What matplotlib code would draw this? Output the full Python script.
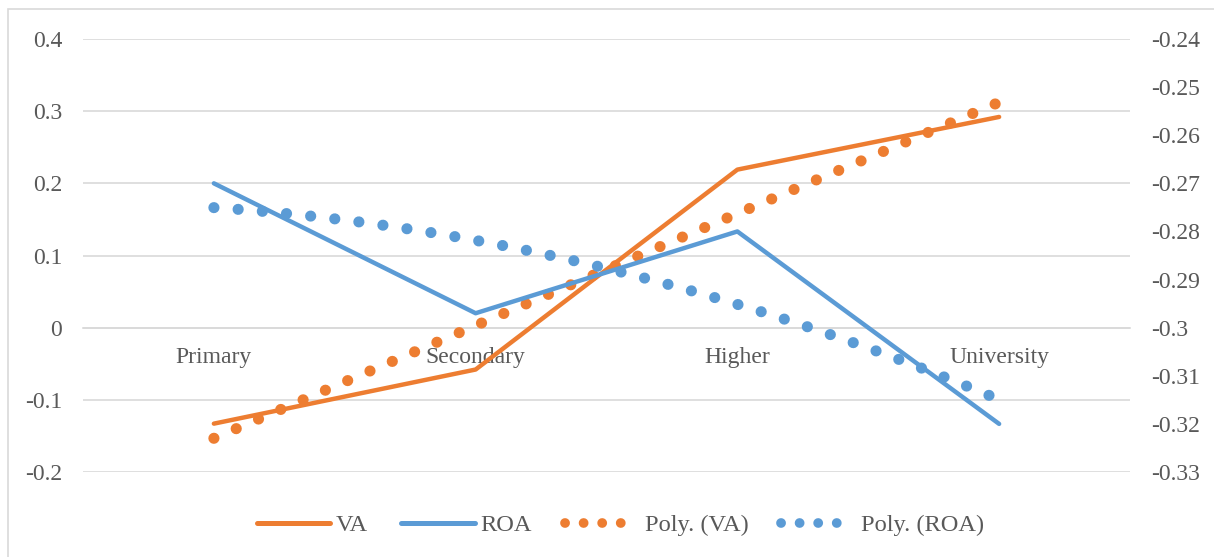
import numpy as np
import matplotlib.pyplot as plt
from matplotlib.patches import Rectangle
from matplotlib.lines import Line2D

# data
categories = ['Primary', 'Secondary', 'Higher', 'University']
va = [-0.133, -0.058, 0.219, 0.292]
roa = [-0.270, -0.297, -0.280, -0.320]
left_ticks = [-0.2, -0.1, 0, 0.1, 0.2, 0.3, 0.4]
right_ticks = [-0.33, -0.32, -0.31, -0.3, -0.29, -0.28, -0.27, -0.26, -0.25, -0.24]

orange = '#ED7D31'
blue = '#5B9BD5'
grid = '#D9D9D9'
txt = '#595959'

plt.rcParams['font.family'] = ['Liberation Serif', 'DejaVu Serif']
plt.rcParams['axes.unicode_minus'] = False

fig = plt.figure(figsize=(12.14, 5.57), dpi=100)
ax = fig.add_axes([83/1214, 1-472/557, (1130-83)/1214, (472-39)/557])
ax2 = ax.twinx()

x = np.arange(len(categories))
xs = np.linspace(0, len(categories)-1, 200)
# excel "Poly." trendlines, order 2, fitted on the category index
va_fit = np.polyval(np.polyfit(x+1, va, 2), xs+1)
roa_fit = np.polyval(np.polyfit(x+1, roa, 2), xs+1)

dot = dict(lw=8, linestyle=(0, (0.01, 2.175)), dash_capstyle='round')
ax.plot(x, va, color=orange, lw=3.2, solid_capstyle='round', zorder=4)
ax.plot(xs, va_fit, color=orange, zorder=5, **dot)
ax2.plot(x, roa, color=blue, lw=3.2, solid_capstyle='round', zorder=3)
ax2.plot(xs, roa_fit, color=blue, zorder=4, **dot)

ax.set_xlim(-0.5, len(categories)-0.5)
ax.set_ylim(-0.2, 0.4)
ax2.set_ylim(-0.33, -0.24)

ax.set_yticks(left_ticks)
ax.set_yticklabels(['{:g}'.format(v) for v in left_ticks])
ax2.set_yticks(right_ticks)
ax2.set_yticklabels(['{:g}'.format(v) for v in right_ticks])
ax.set_xticks(x)
ax.set_xticklabels(categories)

ax.grid(axis='y', color=grid, lw=1.2)
ax.set_axisbelow(True)
for a in (ax, ax2):
    for s in ('top', 'left', 'right'):
        a.spines[s].set_visible(False)
ax2.spines['bottom'].set_visible(False)
ax.spines['bottom'].set_position(('data', 0))
ax.spines['bottom'].set_color(grid)
ax.spines['bottom'].set_linewidth(1.2)

ax.tick_params(axis='y', length=0, pad=15, labelsize=17, labelcolor=txt)
ax.tick_params(axis='x', length=0, pad=14, labelsize=17, labelcolor=txt)
ax2.tick_params(axis='y', length=0, pad=15, labelsize=17, labelcolor=txt)

# legend handles (tighter dot spacing, like excel's legend sample)
ldot = dict(lw=7, linestyle=(0, (0.01, 1.9)), dash_capstyle='round')
handles = [Line2D([], [], color=orange, lw=3.6, solid_capstyle='round'),
           Line2D([], [], color=blue, lw=3.6, solid_capstyle='round'),
           Line2D([], [], color=orange, **ldot),
           Line2D([], [], color=blue, **ldot)]
fig.legend(handles, ['VA', 'ROA', 'Poly. (VA)', 'Poly. (ROA)'], loc='center',
           bbox_to_anchor=(0.511, 0.057), ncol=4, frameon=False, fontsize=17.6,
           labelcolor=txt, handlelength=3.0, handletextpad=0.25, columnspacing=1.35)

fig.patches.append(Rectangle((8/1214, -0.1), 1.2, 1.1-9/557, transform=fig.transFigure,
                             fill=False, edgecolor=grid, lw=1.2))

fig.savefig('out.png', dpi=100)
